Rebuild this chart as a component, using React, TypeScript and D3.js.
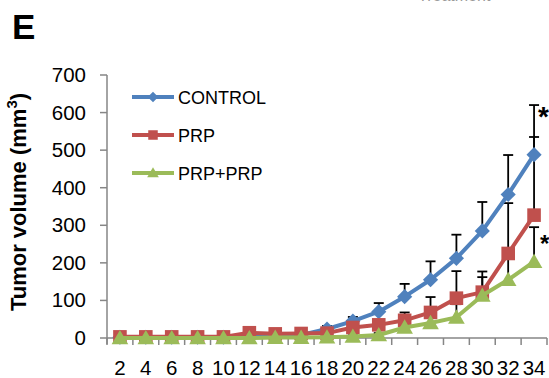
import React from "react";
import * as d3 from "d3";

// days after treatment (category axis)
const days = [2, 4, 6, 8, 10, 12, 14, 16, 18, 20, 22, 24, 26, 28, 30, 32, 34];

// tumor volume means (mm3) and upper error bars
const controlMean = [2, 2, 2, 2, 2, 4, 5, 8, 24, 45, 70, 110, 155, 212, 285, 382, 488];
const controlErr = [2, 2, 2, 2, 2, 2, 3, 4, 8, 11, 23, 34, 49, 63, 77, 105, 132];
const prpMean = [3, 3, 3, 3, 3, 14, 11, 12, 13, 28, 35, 47, 68, 106, 122, 225, 327];
const prpErr = [1, 1, 1, 1, 1, 2, 2, 3, 4, 6, 9, 21, 41, 72, 55, 134, 208];
const prpprpMean = [0, 0, 0, 0, 0, 0, 1, 1, 2, 4, 8, 28, 40, 55, 113, 155, 203];
const prpprpErr = [1, 1, 1, 1, 1, 1, 1, 1, 2, 3, 5, 14, 22, 35, 49, 58, 92];

const yTicks = [0, 100, 200, 300, 400, 500, 600, 700];

const series = [
  { name: "CONTROL", mean: controlMean, err: controlErr, color: "#4F81BD", marker: "diamond" },
  { name: "PRP", mean: prpMean, err: prpErr, color: "#C0504D", marker: "square" },
  { name: "PRP+PRP", mean: prpprpMean, err: prpprpErr, color: "#9BBB59", marker: "triangle" },
];

const font = "'Liberation Sans', Arial, sans-serif";
const axisColor = "#868686";

function markerPath(kind: string) {
  if (kind === "diamond") return d3.symbol().type(d3.symbolSquare).size(115)()!;
  if (kind === "square") return d3.symbol().type(d3.symbolSquare).size(185)()!;
  return d3.symbol().type(d3.symbolTriangle).size(120)()!;
}

export default function App() {
  const width = 549;
  const height = 378;

  const x = d3.scaleBand<number>().domain(days).range([107, 547]).paddingInner(0).paddingOuter(0);
  const cx = (d: number) => (x(d) as number) + x.bandwidth() / 2;
  const y = d3.scaleLinear().domain([0, 700]).range([338, 75]);

  const line = d3
    .line<number>()
    .x((_, i) => cx(days[i]))
    .y((v) => y(v));

  const boundaries = days.map((d) => x(d) as number).concat([547]);

  return (
    <svg
      width={width}
      height={height}
      style={{ position: "absolute", left: 0, top: 0, background: "#fff" }}
      fontFamily={font}
    >
      {/* panel letter */}
      <text x={12} y={39} fontSize={35} fontWeight="bold" fill="#000">E</text>
      <text x={418} y={1} fontSize={16} fill="#999">Treatment</text>

      {/* y axis */}
      <line x1={107} x2={107} y1={y(700)} y2={344} stroke={axisColor} strokeWidth={1.5} />
      {yTicks.map((t) => (
        <g key={t}>
          <line x1={100} x2={107} y1={y(t)} y2={y(t)} stroke={axisColor} strokeWidth={1.5} />
          <text x={86} y={y(t) + 7} fontSize={20.5} textAnchor="end" fill="#000">{t}</text>
        </g>
      ))}
      <text
        transform="rotate(-90)"
        x={-202}
        y={26}
        fontSize={22}
        fontWeight="bold"
        textAnchor="middle"
        fill="#000"
      >
        Tumor volume (mm<tspan fontSize={15} dy={-9}>3</tspan><tspan dy={9}>)</tspan>
      </text>

      {/* x axis */}
      <line x1={107} x2={547} y1={y(0)} y2={y(0)} stroke={axisColor} strokeWidth={1.5} />
      {boundaries.map((b, i) => (
        <line key={i} x1={b} x2={b} y1={y(0)} y2={y(0) + 7} stroke={axisColor} strokeWidth={1.5} />
      ))}
      {days.map((d) => (
        <text key={d} x={cx(d)} y={375} fontSize={20.5} textAnchor="middle" fill="#000">{d}</text>
      ))}

      {/* error bars (upper only) */}
      {series.map((s) => (
        <g key={s.name + "err"}>
          {s.mean.map((m, i) => (
            <g key={i}>
              <line x1={cx(days[i])} x2={cx(days[i])} y1={y(m)} y2={y(m + s.err[i])} stroke="#000" strokeWidth={1.8} />
              <line x1={cx(days[i]) - 5} x2={cx(days[i]) + 5} y1={y(m + s.err[i])} y2={y(m + s.err[i])} stroke="#000" strokeWidth={1.8} />
            </g>
          ))}
        </g>
      ))}

      {/* series lines and markers */}
      {series.map((s) => (
        <g key={s.name}>
          <path d={line(s.mean)!} fill="none" stroke={s.color} strokeWidth={4} strokeLinejoin="round" />
          {s.mean.map((m, i) => (
            <path
              key={i}
              d={markerPath(s.marker)}
              transform={`translate(${cx(days[i])},${y(m) + (s.marker === "triangle" ? 1.5 : 0)})${s.marker === "diamond" ? " rotate(45)" : ""}`}
              fill={s.color}
            />
          ))}
        </g>
      ))}

      {/* significance marks */}
      <text x={538} y={126} fontSize={28} fontWeight="bold" fill="#000">*</text>
      <text x={540} y={252} fontSize={24} fontWeight="bold" fill="#000">*</text>

      {/* legend */}
      {series.map((s, i) => {
        const ly = 97 + i * 38;
        return (
          <g key={s.name + "leg"}>
            <line x1={132} x2={174} y1={ly} y2={ly} stroke={s.color} strokeWidth={4} />
            <path
              d={markerPath(s.marker)}
              transform={`translate(153,${ly + (s.marker === "triangle" ? 1 : 0)})${s.marker === "diamond" ? " rotate(45)" : ""} scale(0.7)`}
              fill={s.color}
            />
            <text x={178} y={ly + 6.5} fontSize={18} fill="#000">{s.name}</text>
          </g>
        );
      })}
    </svg>
  );
}
